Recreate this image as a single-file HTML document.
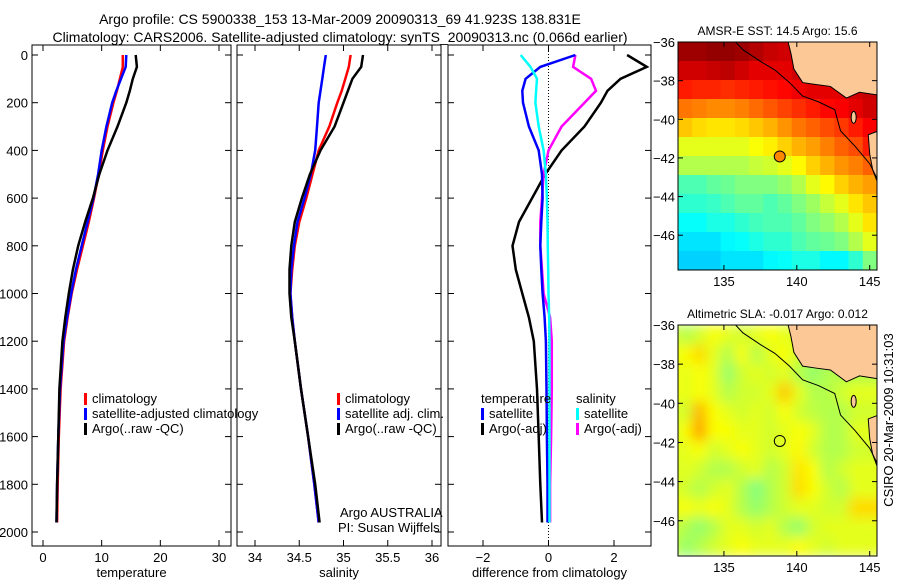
<!DOCTYPE html>
<html><head><meta charset="utf-8"><style>
body{margin:0;background:#fff}
svg{display:block;font-family:"Liberation Sans",sans-serif}
</style></head><body>
<svg id="fig" width="900" height="580" viewBox="0 0 900 580">
<text x="340" y="24" text-anchor="middle" font-size="14">Argo profile: CS 5900338_153 13-Mar-2009 20090313_69 41.923S 138.831E</text>
<text x="340" y="42" text-anchor="middle" font-size="14">Climatology: CARS2006. Satellite-adjusted climatology: synTS_20090313.nc (0.066d earlier)</text>
<text transform="translate(893,420) rotate(-90)" text-anchor="middle" font-size="13">CSIRO 20-Mar-2009 10:31:03</text>
</svg>
<script>
const depths=[0,50,100,150,200,300,400,500,600,700,800,900,1000,1100,1200,1400,1600,1800,1960];
const tempClim=[13.6,13.6,13.1,12.6,12,11,10.2,9.5,8.7,7.8,6.8,5.8,4.9,4.2,3.6,3.0,2.7,2.5,2.4];
const tempSat=[14.2,14.1,13.3,12.5,11.8,10.8,10,9.4,8.6,7.6,6.6,5.6,4.8,4.1,3.5,2.9,2.6,2.4,2.3];
const tempArgo=[15.8,16,15.3,14.8,14.2,12.7,11,9.6,8.5,7.2,6,5.1,4.4,3.8,3.3,2.8,2.6,2.4,2.3];
const salClim=[35.08,35.06,35.02,34.98,34.93,34.84,34.72,34.65,34.58,34.5,34.45,34.42,34.4,34.42,34.45,34.52,34.6,34.67,34.72];
const salSat=[34.8,34.78,34.76,34.74,34.72,34.7,34.68,34.63,34.56,34.48,34.44,34.41,34.4,34.42,34.45,34.52,34.6,34.67,34.72];
const salArgo=[35.22,35.2,35.1,35.05,35.0,34.9,34.74,34.62,34.53,34.45,34.41,34.39,34.39,34.41,34.45,34.52,34.6,34.68,34.73];
const dTempArgo=[2.4,3.0,2.2,1.8,1.6,1.1,0.4,-0.1,-0.5,-0.9,-1.1,-1.0,-0.8,-0.6,-0.45,-0.35,-0.3,-0.25,-0.2];
const dSalArgo=[0.82,0.75,1.3,1.45,1.1,0.4,0,-0.15,-0.2,-0.25,-0.25,-0.2,-0.15,0.05,0.1,0.1,0.08,0.05,0.05];
const dTempSat=[0.82,-0.25,-0.7,-0.8,-0.78,-0.6,-0.3,-0.2,-0.18,-0.22,-0.25,-0.22,-0.18,-0.12,-0.08,-0.06,-0.05,-0.03,-0.03];
const dSalSat=[-0.85,-0.55,-0.35,-0.38,-0.4,-0.3,-0.15,-0.08,-0.05,-0.03,-0.02,-0.01,0,0.02,0.03,0.03,0.03,0.03,0.03];
const depthTicks=[0,200,400,600,800,1000,1200,1400,1600,1800,2000];
const tempTicks=[0,10,20,30];
const salTicks=[34,34.5,35,35.5,36];
const diffTicks=[-2,0,2];
const latTicks=[-36,-38,-40,-42,-44,-46];
const lonTicks=[135,140,145];
const sstGrid=[
[.97,.97,.98,.98,.97,.95,.93,.92,.9,.9,.9,.9,.9,.9],
[.92,.92,.93,.94,.92,.9,.9,.9,.92,.93,.93,.93,.93,.93],
[.85,.84,.84,.83,.84,.85,.86,.87,.89,.9,.9,.9,.92,.93],
[.76,.75,.74,.74,.75,.77,.79,.81,.83,.85,.87,.88,.9,.92],
[.68,.66,.65,.65,.66,.68,.7,.73,.76,.78,.8,.82,.85,.88],
[.6,.6,.6,.6,.6,.62,.64,.67,.7,.72,.75,.78,.8,.85],
[.55,.55,.55,.55,.55,.57,.58,.6,.63,.67,.7,.73,.75,.78],
[.45,.45,.47,.48,.5,.5,.5,.52,.55,.6,.63,.67,.7,.72],
[.42,.42,.43,.45,.47,.47,.45,.47,.5,.53,.57,.6,.65,.68],
[.38,.38,.4,.4,.42,.44,.45,.45,.47,.5,.52,.55,.6,.65],
[.35,.35,.35,.37,.38,.4,.42,.42,.45,.47,.48,.5,.55,.6],
[.33,.33,.33,.35,.35,.35,.37,.38,.4,.4,.37,.37,.42,.5]];
const slaGrid=[
[.6,.55,.58,.62,.6,.58,.6,.62,.6,.6,.58,.55,.55,.55],
[.6,.62,.66,.6,.55,.62,.55,.6,.62,.58,.55,.52,.5,.52],
[.62,.6,.62,.6,.52,.58,.6,.58,.6,.55,.52,.55,.55,.55],
[.62,.6,.62,.6,.55,.58,.58,.6,.68,.6,.55,.55,.58,.6],
[.6,.58,.7,.62,.6,.58,.6,.58,.62,.58,.56,.55,.55,.58],
[.58,.62,.72,.62,.62,.6,.6,.58,.6,.62,.6,.55,.55,.6],
[.6,.6,.62,.58,.6,.62,.6,.58,.6,.63,.58,.55,.55,.58],
[.58,.6,.58,.55,.55,.58,.6,.55,.58,.65,.62,.55,.58,.6],
[.6,.58,.55,.58,.6,.55,.5,.55,.58,.66,.62,.58,.55,.6],
[.6,.62,.6,.62,.6,.55,.52,.55,.58,.6,.6,.58,.58,.66],
[.58,.55,.52,.55,.6,.6,.58,.6,.55,.52,.58,.6,.6,.6],
[.58,.52,.55,.58,.6,.62,.6,.6,.6,.62,.6,.58,.6,.6]];
const ns='http://www.w3.org/2000/svg';
const svg=document.getElementById('fig');
function mk(tag,attrs,parent){const e=document.createElementNS(ns,tag);for(const k in attrs)e.setAttribute(k,attrs[k]);(parent||svg).appendChild(e);return e;}
function lin(d0,d1,r0,r1){return v=>r0+(v-d0)*(r1-r0)/(d1-d0);}
function jet(v){v=Math.max(0,Math.min(1,v));const c=x=>Math.round(255*Math.max(0,Math.min(1,1.5-Math.abs(4*v-x))));return `rgb(${c(3)},${c(2)},${c(1)})`;}

const yD=lin(0,2000,55,532);
const panels=[
 {x0:32,x1:231,sx:lin(0,30,43,219),ticks:tempTicks,label:'temperature',name:'temperature-panel',
  series:[[tempClim,'#f00','climatology-line'],[tempSat,'#00f','satellite-adjusted-line'],[tempArgo,'#000','argo-line']]},
 {x0:237,x1:441,sx:lin(34,36,255,432),ticks:salTicks,label:'salinity',name:'salinity-panel',
  series:[[salClim,'#f00','salinity-climatology-line'],[salSat,'#00f','salinity-satellite-line'],[salArgo,'#000','salinity-argo-line']]},
 {x0:448,x1:651,sx:lin(-2,2,483,614),ticks:diffTicks,label:'difference from climatology',name:'difference-panel',
  series:[[dTempArgo,'#000','temp-diff-argo-line'],[dSalArgo,'#f0f','sal-diff-argo-line'],[dTempSat,'#00f','temp-diff-satellite-line'],[dSalSat,'#0ff','sal-diff-satellite-line']]}
];
panels.forEach((p,i)=>{
 const g=mk('g',{});
 
 
 const cid='clip'+i;
 const cp=mk('clipPath',{id:cid},g);mk('rect',{x:p.x0,y:45,width:p.x1-p.x0,height:501},cp);
 if(i==2){const zl=mk('line',{x1:p.sx(0),x2:p.sx(0),y1:45,y2:546,stroke:'#000','stroke-dasharray':'1,2'},g);
  }
 p.series.forEach(s=>{
  const pts=s[0].map((v,k)=>p.sx(v).toFixed(1)+','+yD(depths[k]).toFixed(1)).join(' ');
  const pl=mk('polyline',{points:pts,fill:'none',stroke:s[1],'stroke-width':2.5,'clip-path':`url(#${cid})`},g);
  
  
 });
 mk('rect',{x:p.x0,y:45,width:p.x1-p.x0,height:501,fill:'none',stroke:'#000','stroke-width':1},g);
 p.ticks.forEach(t=>{const x=p.sx(t);mk('line',{x1:x,x2:x,y1:546,y2:540,stroke:'#000'},g);mk('line',{x1:x,x2:x,y1:45,y2:51,stroke:'#000'},g);
  const tl=mk('text',{x:x,y:562,'text-anchor':'middle','font-size':13},g);tl.textContent=(t<0?'\u2212':'')+Math.abs(t);
  });
 depthTicks.forEach(d=>{const y=yD(d);mk('line',{x1:p.x0,x2:p.x0+6,y1:y,y2:y,stroke:'#000'},g);mk('line',{x1:p.x1,x2:p.x1-6,y1:y,y2:y,stroke:'#000'},g);
  if(i==0){const tl=mk('text',{x:28,y:y+5,'text-anchor':'end','font-size':13},g);tl.textContent=d;
  }});
 const xl=mk('text',{x:(p.x0+p.x1)/2,y:577,'text-anchor':'middle','font-size':13},g);xl.textContent=p.label;
 
});
function legend(x,y,items,name){const g=mk('g',{});
 items.forEach((it,k)=>{const yy=y+k*15;if(it[1])mk('rect',{x:x,y:yy-10,width:3,height:12,fill:it[1]},g);
  const t=mk('text',{x:x+(it[1]?8:0),y:yy,'font-size':13},g);t.textContent=it[0];
  });}
legend(84,403,[['climatology','#f00'],['satellite-adjusted climatology','#00f'],['Argo(..raw -QC)','#000']],'temperature-legend');
legend(337,403,[['climatology','#f00'],['satellite adj. clim.','#00f'],['Argo(..raw -QC)','#000']],'salinity-legend');
legend(481,403,[['temperature',null],['satellite','#00f'],['Argo(-adj)','#000']],'diff-temp-legend');
legend(576,403,[['salinity',null],['satellite','#0ff'],['Argo(-adj)','#f0f']],'diff-sal-legend');
let t1=mk('text',{x:340,y:517,'font-size':13});t1.textContent='Argo AUSTRALIA';
let t2=mk('text',{x:338,y:532,'font-size':13});t2.textContent='PI: Susan Wijffels';

function drawMap(grid,y0,y1,title,name,filled,idx){
 const x0=678,x1=877;
 const sx=lin(131.85,145.5,x0,x1),sy=lin(-36,-47.8,y0,y1);
 const g=mk('g',{});
 const cp=mk('clipPath',{id:'mc'+idx},g);mk('rect',{x:x0,y:y0,width:x1-x0,height:y1-y0},cp);
 const gg=mk('g',{'clip-path':`url(#mc${idx})`},g);
 let inner=gg;
 if(!filled){const f=mk('filter',{id:'bl'+idx,x:'-10%',y:'-10%',width:'120%',height:'120%'},g);mk('feGaussianBlur',{stdDeviation:6},f);inner=mk('g',{filter:`url(#bl${idx})`},gg);}
 const cw=(x1-x0)/14,ch=(y1-y0)/12;
 grid.forEach((row,r)=>row.forEach((v,c)=>{const cell=mk('rect',{x:x0+c*cw-(filled?0:cw),y:y0+r*ch,width:cw+(filled?0.5:cw*2),height:ch+0.5,fill:jet(v)},inner);
  }));
 const land=[[139.4,-35.5],[139.4,-36],[139.6,-36.6],[139.8,-37.4],[140.4,-38.1],[141.3,-38.2],[142.3,-38.3],[143.4,-38.9],[144.3,-38.6],[145.6,-38.75],[145.6,-35.5]];
 const lp=mk('polygon',{points:land.map(p=>sx(p[0])+','+sy(p[1])).join(' '),fill:'#fcc896',stroke:'#000','stroke-width':1},gg);
 
 const tas=[[145.6,-40.6],[144.9,-40.8],[145.0,-41.8],[145.2,-42.6],[145.6,-43.4]];
 const tp=mk('polygon',{points:tas.map(p=>sx(p[0])+','+sy(p[1])).join(' '),fill:'#fcc896',stroke:'#000'},gg);
 
 const shelf=[[135.8,-36],[136.3,-36.4],[137.5,-37.0],[138.5,-37.45],[139.5,-38.1],[140.4,-38.8],[141.5,-39.1],[142.6,-39.5],[143.0,-40.6],[144,-41.4],[145,-42.3],[145.6,-43.2]];
 const sl=mk('polyline',{points:shelf.map(p=>sx(p[0])+','+sy(p[1])).join(' '),fill:'none',stroke:'#000','stroke-width':1},gg);
 
 mk('ellipse',{cx:sx(143.9),cy:sy(-39.9),rx:2.5,ry:6,fill:'#fcc896',stroke:'#000'},gg);
 const pt=mk('circle',{cx:sx(138.831),cy:sy(-41.923),r:5.5,fill:filled?'#f80':'none',stroke:'#000'},g);
 
 mk('rect',{x:x0,y:y0,width:x1-x0,height:y1-y0,fill:'none',stroke:'#000'},g);
 latTicks.forEach(l=>{const y=sy(l);mk('line',{x1:x0,x2:x0+5,y1:y,y2:y,stroke:'#000'},g);mk('line',{x1:x1,x2:x1-5,y1:y,y2:y,stroke:'#000'},g);
  const tl=mk('text',{x:675,y:y+5,'text-anchor':'end','font-size':13},g);tl.textContent='\u2212'+Math.abs(l);
  });
 lonTicks.forEach(l=>{const x=sx(l);mk('line',{x1:x,x2:x,y1:y1,y2:y1-5,stroke:'#000'},g);mk('line',{x1:x,x2:x,y1:y0,y2:y0+5,stroke:'#000'},g);
  const tl=mk('text',{x:x,y:y1+16,'text-anchor':'middle','font-size':13},g);tl.textContent=l;
  });
 const tt=mk('text',{x:(x0+x1)/2,y:y0-7,'text-anchor':'middle','font-size':12},g);tt.textContent=title;
 
}
drawMap(sstGrid,42,270,'AMSR-E SST: 14.5 Argo: 15.6','sst-map',true,0);
drawMap(slaGrid,325,556,'Altimetric SLA: -0.017 Argo: 0.012','sla-map',false,1);
</script>
</body></html>
